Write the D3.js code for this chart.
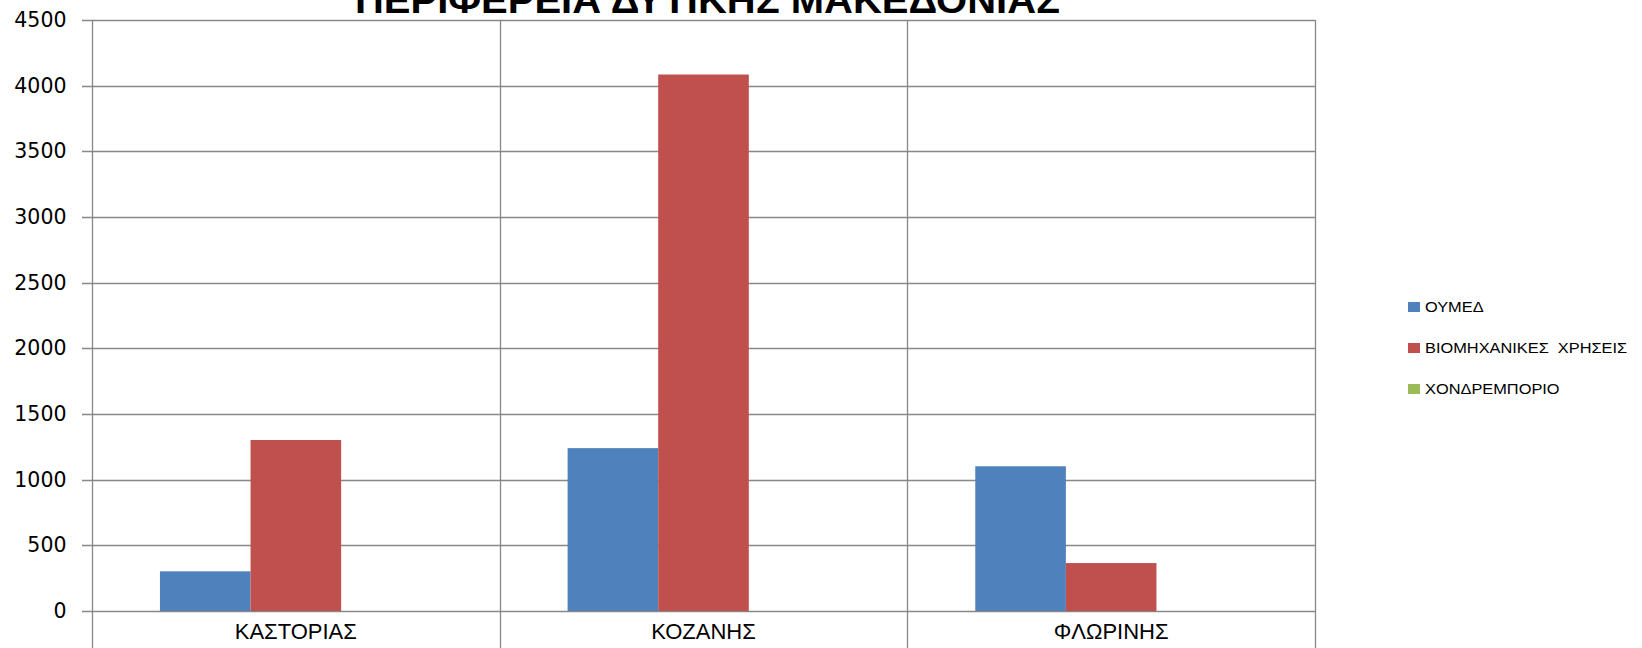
<!DOCTYPE html>
<html><head><meta charset="utf-8">
<script src="https://cdn.jsdelivr.net/npm/d3@7/dist/d3.min.js"></script>
<style>body{margin:0;background:#fff}svg{display:block}</style>
</head><body>
<svg id="c" width="1642" height="648"></svg>
<script>
const title = "ΠΕΡΙΦΕΡΕΙΑ ΔΥΤΙΚΗΣ ΜΑΚΕΔΟΝΙΑΣ";
const categories = ["ΚΑΣΤΟΡΙΑΣ", "ΚΟΖΑΝΗΣ", "ΦΛΩΡΙΝΗΣ"];
const seriesNames = ["ΟΥΜΕΔ", "ΒΙΟΜΗΧΑΝΙΚΕΣ  ΧΡΗΣΕΙΣ", "ΧΟΝΔΡΕΜΠΟΡΙΟ"];
const oumed = [302, 1240, 1102];
const viomixanikes = [1302, 4085, 365];
const xondremporio = [0, 0, 0];
const yTicks = [0, 500, 1000, 1500, 2000, 2500, 3000, 3500, 4000, 4500];
const colors = ["#4F81BD", "#C0504D", "#9BBB59"];

const seriesValues = [oumed, viomixanikes, xondremporio];
const svg = d3.select("#c");
const mLeft = 92, mRight = 1315, mTop = 20, zeroY = 611;
const y = d3.scaleLinear().domain([0, 4500]).range([zeroY, mTop]);
const x = d3.scaleBand().domain(categories).range([mLeft, mRight]);
const bw = x.bandwidth();
const xs = d3.scaleBand().domain(seriesNames).range([bw / 6, bw * 5 / 6]);
const grid = "#888888";

// horizontal gridlines
svg.append("g").selectAll("line").data(yTicks).join("line")
  .attr("x1", mLeft - 10).attr("x2", mRight)
  .attr("y1", d => Math.round(y(d)) + 0.5).attr("y2", d => Math.round(y(d)) + 0.5)
  .attr("stroke", grid).attr("stroke-width", 1.3);

// vertical category boundaries
const bounds = categories.map(c => x(c)).concat([mRight]);
svg.append("g").selectAll("line").data(bounds).join("line")
  .attr("x1", d => Math.round(d) + 0.5).attr("x2", d => Math.round(d) + 0.5)
  .attr("y1", mTop).attr("y2", 648)
  .attr("stroke", grid).attr("stroke-width", 1.3);

// bars
seriesNames.forEach((s, si) => {
  svg.append("g").selectAll("rect").data(categories).join("rect")
    .attr("x", c => x(c) + xs(s))
    .attr("width", xs.bandwidth())
    .attr("y", (c, i) => y(seriesValues[si][i]))
    .attr("height", (c, i) => zeroY - y(seriesValues[si][i]))
    .attr("fill", colors[si]);
});

// y labels
svg.append("g").selectAll("text").data(yTicks).join("text")
  .attr("x", 66.5).attr("y", d => y(d) + 7)
  .attr("text-anchor", "end")
  .attr("font-family", "DejaVu Sans").attr("font-size", 20.5)
  .attr("fill", "#000").text(d => d);

// x labels
svg.append("g").selectAll("text").data(categories).join("text")
  .attr("x", c => x(c) + bw / 2).attr("y", 639)
  .attr("text-anchor", "middle")
  .attr("font-family", "Liberation Sans").attr("font-size", 22)
  .attr("fill", "#000").text(c => c);

// title
svg.append("text").attr("x", 355).attr("y", 12.5)
  .attr("font-family", "Liberation Sans").attr("font-weight", "bold").attr("font-size", 36)
  .attr("textLength", 705).attr("lengthAdjust", "spacingAndGlyphs")
  .attr("fill", "#000").text(title);

// legend
const lg = svg.append("g");
seriesNames.forEach((s, i) => {
  const cy = 307 + i * 41;
  lg.append("rect").attr("x", 1408).attr("y", cy - 5).attr("width", 12).attr("height", 10).attr("fill", colors[i]);
  lg.append("text").attr("transform", `translate(1425,${cy + 5}) scale(1.17,1)`)
    .attr("font-family", "Liberation Sans").attr("font-size", 14)
    .attr("fill", "#000").style("white-space", "pre").text(s);
});
</script>
</body></html>
